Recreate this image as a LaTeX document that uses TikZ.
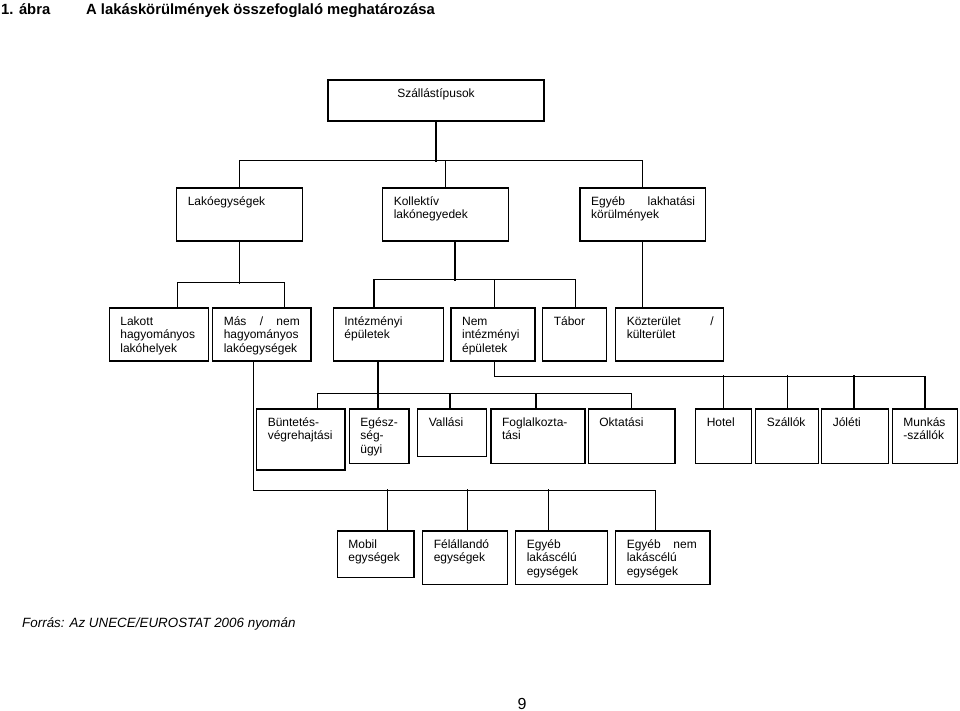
\documentclass[tikz,border=0pt]{standalone}
\usepackage{fontspec}
\setmainfont{Liberation Sans}
\usetikzlibrary{fit}
\tikzset{
  box/.style={draw, line width=1.2pt, inner sep=0pt, rectangle},
  txt/.style={anchor=north west, inner sep=0pt, align=left, font=\fontsize{12}{13.6}\selectfont, xshift=11.5pt, yshift=-8pt},
  conn/.style={line width=1.2pt},
  ttl/.style={anchor=base west, inner sep=0pt, font=\fontsize{14.8}{17}\selectfont\bfseries},
}
\newcommand\bx[4]{%
  \node[box, fit={#2 #3}] (#1) {};
  \node[txt] (#1-t) at (#1.north west) {\strut #4};}
\begin{document}
\begin{tikzpicture}[x=1pt,y=-1pt]
\useasboundingbox (0,0) rectangle (960,711);
% titles
\node[ttl] (t1) at (1,15) {1. ábra};
\node[ttl] (t2) at (86,15) {A lakáskörülmények összefoglaló meghatározása};
% level 1
\node[box, fit={(328,80) (544,121)}] (root) {};
\node[anchor=north, inner sep=0pt, yshift=-8pt, font=\fontsize{12}{13.6}\selectfont] (root-t) at (root.north) {\strut Szállástípusok};
% level 2
\bx{lako}{(176.7,188)}{(302.3,241)}{Lakóegységek}
\bx{koll}{(382.7,188)}{(508.3,241)}{Kollektív\\lakónegyedek}
\bx{egyeb}{(580,188)}{(705.7,241)}{\makebox[104pt]{Egyéb\hfill lakhatási}\\körülmények}
% level 3
\bx{lakott}{(109.3,308)}{(208.3,361)}{Lakott\\hagyományos\\lakóhelyek}
\bx{mas}{(212.7,308)}{(311,361)}{\makebox[76pt]{Más\hfill/\hfill nem}\\hagyományos\\lakóegységek}
\bx{intez}{(333.3,308)}{(443.3,361)}{Intézményi\\épületek}
\bx{nem}{(451,308)}{(535,361)}{Nem\\intézményi\\épületek}
\bx{tabor}{(542.7,308)}{(606.7,361)}{Tábor}
\bx{kozt}{(615.7,308)}{(723.3,361)}{\makebox[87pt]{Közterület\hfill/}\\külterület}
% level 4
\bx{bunt}{(256.7,409)}{(345,470)}{Büntetés-\\végrehajtási}
\bx{egesz}{(349.3,409)}{(409,463.3)}{Egész-\\ség-\\ügyi}
\bx{vall}{(417.7,409)}{(486.7,456.7)}{Vallási}
\bx{fogl}{(491,409)}{(585,463.3)}{Foglalkozta-\\tási}
\bx{oktat}{(588.3,409)}{(675,463.3)}{Oktatási}
\bx{hotel}{(695.7,409)}{(751.7,463.3)}{Hotel}
\bx{szall}{(755.7,409)}{(818.3,463.3)}{Szállók}
\bx{joleti}{(821.7,409)}{(888.3,463.3)}{Jóléti}
\bx{munkas}{(892.3,409)}{(957.5,463.3)}{Munkás\\-szállók}
% level 5
\bx{mobil}{(337.3,531)}{(414,577.3)}{Mobil\\egységek}
\bx{fel}{(422.7,531)}{(507.7,584.3)}{Félállandó\\egységek}
\bx{egyl}{(515.7,531)}{(607.7,584.3)}{Egyéb\\lakáscélú\\egységek}
\bx{egyn}{(615.7,531)}{(710,584.3)}{\makebox[70pt]{Egyéb\hfill nem}\\lakáscélú\\egységek}
% connectors level 1-2
\draw[conn] (root.south) -- ++(0,40);
\draw[conn] (lako.north) -- ++(0,-27) -| (egyeb.north);
\draw[conn] (koll.north) -- ++(0,-27);
% level 2-3
\draw[conn] (lako.south) -- ++(0,42);
\draw[conn] ([xshift=18.5pt]lakott.north) -- ++(0,-25) -| ([xshift=22.5pt]mas.north);
\draw[conn] ([xshift=9.5pt]koll.south) -- ++(0,39);
\draw[conn] ([xshift=-14.3pt]intez.north) -- ++(0,-28) -| ([xshift=1pt]tabor.north);
\draw[conn] ([xshift=1.3pt]nem.north) -- ++(0,-28);
\draw[conn] (egyeb.south) -- (egyeb.south |- kozt.north);
% level 3-4
\draw[conn] ([xshift=-10.3pt]intez.south) -- ([xshift=-10.3pt]intez.south |- egesz.north);
\draw[conn] ([xshift=16.45pt]bunt.north) -- ++(0,-15) -| (oktat.north);
\draw[conn] ([xshift=-2.2pt]vall.north) -- ++(0,-15);
\draw[conn] ([xshift=-2pt]fogl.north) -- ++(0,-15);
\draw[conn] ([xshift=1.3pt]nem.south) -- ++(0,15) -| (munkas.north);
\draw[conn] (hotel.north) -- ++(0,-33);
\draw[conn] ([xshift=0.5pt]szall.north) -- ++(0,-33);
\draw[conn] ([xshift=-1pt]joleti.north) -- ++(0,-33);
% level 3-5
\draw[conn] ([xshift=-8.5pt]mas.south) -- ++(0,129) -| ([xshift=-7.15pt]egyn.north);
\draw[conn] ([xshift=11.65pt]mobil.north) -- ++(0,-41);
\draw[conn] ([xshift=2.5pt]fel.north) -- ++(0,-41);
\draw[conn] ([xshift=-13.4pt]egyl.north) -- ++(0,-41);
% footer
\node[anchor=base west, inner sep=0pt, font=\fontsize{13.4}{16}\selectfont\itshape] (src) at (22,627) {Forrás: Az UNECE/EUROSTAT 2006 nyomán};
\node[anchor=base, inner sep=0pt, font=\fontsize{16}{18}\selectfont] (pg) at (522,709) {9};
\end{tikzpicture}
\end{document}
